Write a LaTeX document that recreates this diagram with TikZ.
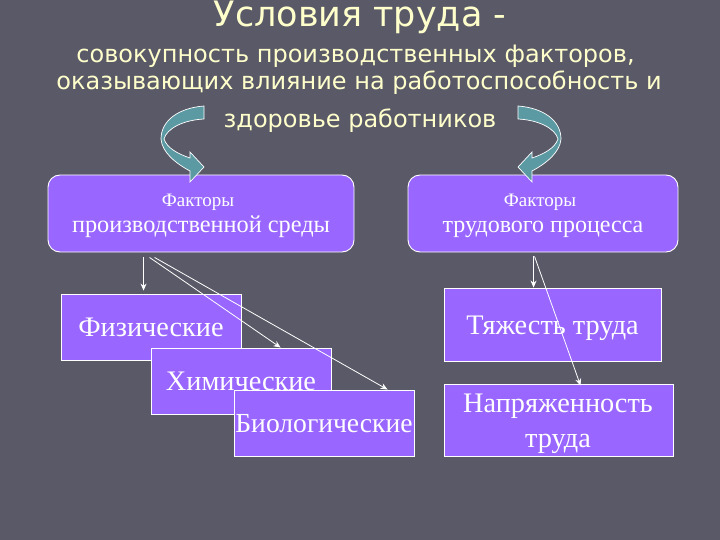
\documentclass[tikz,border=0pt]{standalone}
\usepackage{fontspec}
\setmainfont{Liberation Serif}
\newfontfamily\titlefont{DejaVu Sans}
\usetikzlibrary{arrows.meta}
\definecolor{bgc}{RGB}{89,89,103}
\definecolor{titlec}{RGB}{255,255,204}
\definecolor{boxc}{RGB}{153,102,255}
\definecolor{tealc}{RGB}{92,154,163}
\begin{document}
\begin{tikzpicture}[x=1pt,y=-1pt,
  rbox/.style={draw=white, line width=0.9pt, fill=boxc, rounded corners=12pt, minimum width=306pt, minimum height=77pt, inner sep=0pt},
  sbox/.style={draw=white, line width=0.9pt, fill=boxc, inner sep=0pt, text=white, font=\fontsize{28.3}{35}\selectfont, text height=19pt, text depth=0pt},
  btext/.style={text=white, inner sep=0pt, anchor=base},
  ttext/.style={text=titlec, font=\titlefont\fontsize{24}{28}\selectfont, inner sep=0pt, anchor=base},
  arr/.style={draw=white, line width=0.8pt, -{Stealth[length=7pt,width=6pt]}},
  bandarrow/.style={fill=tealc, draw=white, line width=0.7pt}]
\fill[bgc] (0,0) rectangle (720,540);
\useasboundingbox (0,0) rectangle (720,540);
% title
\node[ttext, font=\titlefont\fontsize{35}{40}\selectfont] (t0) at (360,27) {Условия труда -};
\node[ttext] (t1) at (355.5,63) {совокупность производственных факторов,};
\node[ttext] (t2) at (359,90) {оказывающих влияние на работоспособность и};
\node[ttext] (t3) at (360,128) {здоровье работников};
% top boxes
\node[rbox] (pf) at (201,213.5) {};
\node[rbox, minimum width=270pt] (tp) at (543,213.5) {};
\node[btext, font=\fontsize{19}{22}\selectfont] (pf1) at (198,207) {Факторы};
\node[btext, font=\fontsize{24.3}{28}\selectfont] (pf2) at (201,233) {производственной среды};
\node[btext, font=\fontsize{19}{22}\selectfont] (tp1) at (540,207) {Факторы};
\node[btext, font=\fontsize{24}{28}\selectfont] (tp2) at (543,233) {трудового процесса};
% lower boxes
\node[sbox, minimum width=180pt, minimum height=66pt] (fiz) at (151,327) {Физические};
\node[sbox, minimum width=180pt, minimum height=66pt] (chem) at (241,381) {Химические};
\node[sbox, minimum width=180pt, minimum height=66pt, font=\fontsize{27.6}{35}\selectfont] (bio) at (324,423) {Биологические};
\node[sbox, minimum width=217pt, minimum height=73pt] (hard) at (552.5,324.5) {Тяжесть труда};
\node[sbox, minimum width=229pt, minimum height=72pt] (ten) at (558.5,420) {};
\node[btext, align=center, font=\fontsize{28.3}{35}\selectfont] (tent) at (558,447) {Напряженность\\труда};
% curved arrows
\path[bandarrow] (204,106) .. controls (178,108) and (161,121) .. (161,139)
  .. controls (162,152) and (175,163) .. (190,171)
  -- (190,182) -- (204,167) -- (190,152) -- (190,158)
  .. controls (178,154) and (167,148) .. (164,139)
  .. controls (167,128) and (184,120) .. (204,119) -- cycle;
\begin{scope}[xshift=722pt, xscale=-1]
\path[bandarrow] (204,106) .. controls (178,108) and (161,121) .. (161,139)
  .. controls (162,152) and (175,163) .. (190,171)
  -- (190,182) -- (204,167) -- (190,152) -- (190,158)
  .. controls (178,154) and (167,148) .. (164,139)
  .. controls (167,128) and (184,120) .. (204,119) -- cycle;
\end{scope}
% connectors
\coordinate (s1) at ([shift={(96,5)}]pf.south west);
\coordinate (s2) at ([shift={(102,5)}]pf.south west);
\coordinate (s3) at ([shift={(107,5)}]pf.south west);
\coordinate (s4) at ([shift={(126,4)}]tp.south west);
\coordinate (s5) at ([shift={(127,4)}]tp.south west);
\draw[arr, shorten >=3pt] (s1) -- (s1 |- fiz.north);
\draw[arr] (s2) -- ([xshift=130pt]chem.north west);
\draw[arr] (s3) -- ([xshift=154pt]bio.north west);
\draw[arr] (s4) -- (s4 |- hard.north);
\draw[arr] (s5) -- ([shift={(137,2)}]ten.north west);
\end{tikzpicture}
\end{document}
